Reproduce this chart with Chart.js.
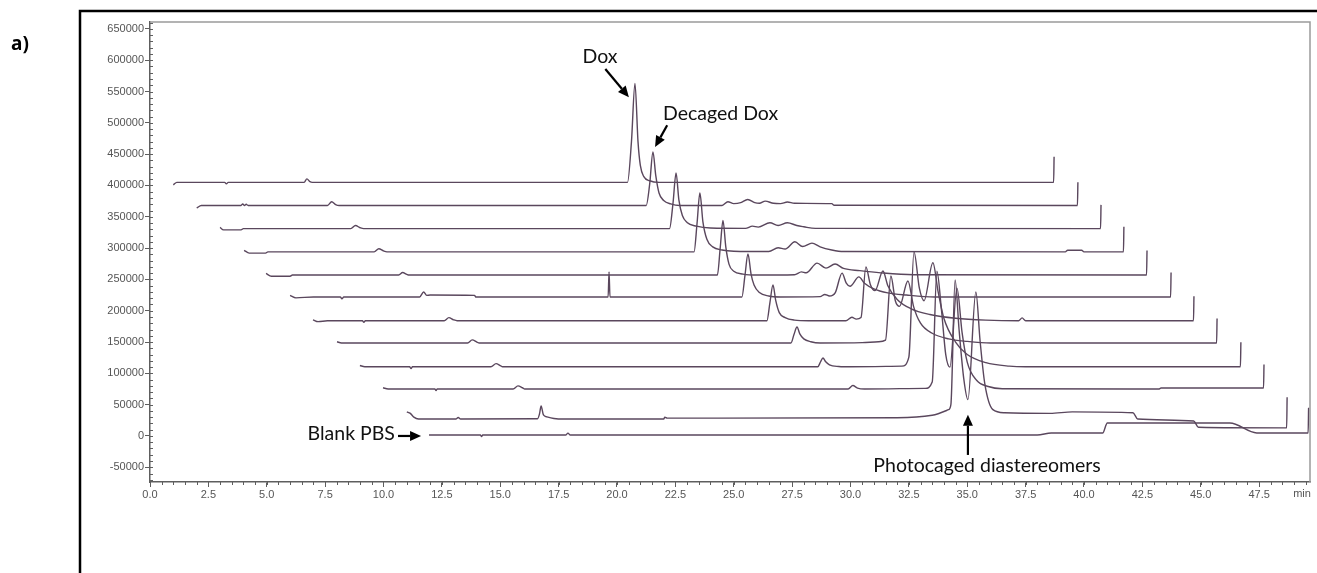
<!DOCTYPE html>
<html>
<head>
<meta charset="utf-8">
<style>
  html, body { margin: 0; padding: 0; background: #fff; }
  #wrap { width: 1317px; height: 573px; }
</style>
<script src="https://cdn.jsdelivr.net/npm/chart.js@4.4.1/dist/chart.umd.min.js"></script>
</head>
<body>
<div id="wrap"><canvas id="hplc" width="1317" height="573"></canvas></div>
<script>
// Stacked HPLC runs, each one offset in time and signal ([min, signal])
const run1 = [[1.0,401000],[1.15,405000],[3.2,405000],[3.27,402500],[3.35,405000],[6.6,405000],[6.72,410500],[6.85,406000],[6.95,405000],
  [20.45,405000],[20.62,470000],[20.77,563000],[20.9,470000],[21.0,432000],[21.15,414000],[21.4,407500],[21.8,405000],[38.7,405000],[38.72,446000]];
const run2 = [[2.0,364000],[2.2,368000],[3.9,368000],[3.97,370500],[4.05,368000],[4.12,370000],[4.2,368000],[7.6,368000],[7.78,374000],[7.95,369500],[8.1,368000],
  [21.25,368000],[21.4,402000],[21.54,453500],[21.66,416000],[21.8,388000],[22.0,376000],[22.3,370500],[22.7,368000],
  [24.5,368000],[24.75,374000],[25.0,371000],[25.3,372500],[25.6,377500],[25.9,372500],[26.1,371500],[26.35,375000],[26.7,371500],[27.0,371000],
  [27.3,373500],[27.6,371500],[29.2,371000],[29.3,368500],[39.72,368000],[39.74,405000]];
const run3 = [[3.0,333000],[3.15,329000],[3.9,329000],[4.0,331000],[8.6,331000],[8.8,336000],[9.0,332500],[9.15,331000],
  [22.25,331000],[22.4,372000],[22.53,420000],[22.65,377000],[22.8,352000],[23.0,341000],[23.4,335000],[24.0,332000],
  [25.5,331500],[25.8,335000],[26.05,333500],[26.55,340500],[26.9,336000],[27.3,340500],[27.7,336000],[28.0,334000],[28.5,331500],[40.71,331000],[40.73,369000]];
const run4 = [[4.03,296500],[4.25,292000],[4.95,292000],[5.05,294000],[9.6,294000],[9.8,299000],[10.0,295500],[10.15,294000],
  [23.3,294000],[23.43,340000],[23.55,388000],[23.68,342000],[23.85,314000],[24.1,302000],[24.5,297000],[25.0,295000],
  [26.5,294500],[26.9,300500],[27.2,298500],[27.62,310000],[27.95,302500],[28.35,308000],[28.7,302000],[29.2,297000],[29.7,294500],
  [39.2,294000],[39.3,296500],[39.9,296500],[40.0,294000],[41.69,294000],[41.71,334000]];
const run5 = [[4.97,259500],[5.2,255000],[6.0,255000],[6.1,257000],[10.65,257000],[10.82,261000],[11.0,258000],[11.1,257000],
  [24.3,257000],[24.42,300000],[24.54,344000],[24.66,302000],[24.8,274000],[25.0,263000],[25.4,258500],[26.0,257000],
  [27.6,257500],[27.9,262000],[28.1,260500],[28.57,276000],[28.95,268000],[29.34,274500],[29.7,267500],[30.4,264000],[31.3,260500],[32.7,257500],
  [42.68,257000],[42.70,296000]];
const run6 = [[6.0,224500],[6.25,220500],[7.0,222000],[8.15,222000],[8.22,219000],[8.3,222000],[11.55,222000],[11.72,230000],[11.85,224500],[12.0,225000],
  [13.9,224500],[13.95,222000],[19.62,222000],[19.66,262000],[19.7,222000],
  [25.35,222000],[25.48,256000],[25.61,290500],[25.74,259000],[25.87,241000],[26.1,229000],[26.5,223500],[27.0,222000],
  [28.7,222500],[28.9,226000],[29.1,223500],[29.35,229000],[29.64,260000],[29.82,244000],[29.98,239000],[30.36,254000],[30.6,244000],
  [31.0,235000],[31.6,228500],[32.4,225000],[33.6,222000],[43.71,222000],[43.73,261000]];
const run7 = [[6.98,185500],[7.2,182500],[7.6,184000],[9.1,184000],[9.16,181500],[9.22,184000],[12.6,184000],[12.8,189000],[13.0,185500],[13.15,184000],
  [26.42,184000],[26.55,213000],[26.68,241000],[26.8,216000],[26.95,197000],[27.2,189000],[27.6,185000],[28.2,184000],
  [29.8,184000],[30.06,189500],[30.25,186500],[30.45,189000],[30.66,270000],[30.85,242000],[31.05,232000],[31.39,263500],[31.6,240000],
  [32.0,218000],[32.6,203000],[33.4,194000],[34.5,188000],[35.8,185000],[37.2,184000],[37.35,188500],[37.5,184000],[44.69,184000],[44.71,223000]];
const run8 = [[8.01,150500],[8.2,148500],[13.6,148500],[13.8,153500],[14.0,150000],[14.1,148500],
  [27.45,148500],[27.58,162000],[27.71,174000],[27.83,163000],[28.0,155000],[28.3,150500],[28.7,148500],
  [30.5,149000],[31.2,150500],[31.5,153000],[31.73,255500],[31.92,216000],[32.1,207000],[32.46,247500],[32.7,207000],
  [33.0,180000],[33.5,164000],[34.2,155000],[35.0,151000],[36.0,148500],[45.68,148500],[45.70,187500]];
const run9 = [[8.99,112500],[9.2,110500],[11.12,110500],[11.18,107500],[11.24,110500],[14.6,110500],[14.82,115500],[15.0,112500],[15.1,110500],
  [28.6,110500],[28.72,118500],[28.82,124500],[28.94,118500],[29.1,113500],[29.5,111000],[30.0,110500],
  [32.2,111500],[32.5,126000],[32.72,294000],[32.95,236000],[33.15,216000],[33.53,276500],[33.75,231000],[34.0,188000],[34.5,150000],
  [35.0,130000],[35.8,117000],[36.8,111500],[37.5,110500],[46.70,110500],[46.72,149500]];
const run10 = [[9.98,77000],[10.2,75000],[12.2,75000],[12.25,72500],[12.3,75000],[15.55,75000],[15.76,80000],[15.95,77000],[16.05,75000],
  [29.9,75000],[30.1,80500],[30.3,76500],[30.6,75000],
  [33.2,76000],[33.5,86000],[33.7,263000],[33.9,200000],[34.08,130000],[34.26,110000],[34.56,236000],[34.78,165000],[35.0,118000],
  [35.4,89000],[35.9,79000],[36.5,75500],[43.2,75000],[43.3,76500],[47.69,76500],[47.71,114000]];
const run11 = [[11.0,38500],[11.15,36000],[11.3,30000],[11.5,27000],[13.1,27000],[13.2,29500],[13.3,27000],
  [16.6,27500],[16.68,35000],[16.75,48000],[16.85,33500],[17.0,30500],[17.3,28000],[17.7,27000],[22.0,27000],[22.05,30000],[22.15,28500],
  [32.0,29000],[33.5,33000],[34.2,42000],[34.3,50000],[34.48,249000],[34.65,170000],[34.85,92000],[35.03,58000],[35.37,230000],
  [35.55,152000],[35.75,84000],[36.1,42000],[36.6,37000],[38.55,36000],[39.5,38500],[42.1,37000],[42.3,27000],[44.7,24000],[44.9,14000],
  [48.68,13000],[48.7,62000]];
const run12 = [[11.95,1500],[14.15,1500],[14.2,-1000],[14.25,1500],[17.8,1500],[17.9,4500],[18.0,1500],[38.0,1500],[38.6,4800],
  [40.8,4800],[41.0,20800],[46.25,20800],[47.4,4800],[49.6,4800],[49.62,45000]];

const runs = [run1, run2, run3, run4, run5, run6, run7, run8, run9, run10, run11, run12];
const xTicks = [0, 2.5, 5, 7.5, 10, 12.5, 15, 17.5, 20, 22.5, 25, 27.5, 30, 32.5, 35, 37.5, 40, 42.5, 45, 47.5];
const yTicks = [-50000, 0, 50000, 100000, 150000, 200000, 250000, 300000, 350000, 400000, 450000, 500000, 550000, 600000, 650000];

const notes = [
  { text: 'Dox', at: [19.27, 605000], align: 'center' },
  { text: 'Decaged Dox', at: [21.97, 515000], align: 'left' },
  { text: 'Blank PBS', at: [10.49, 3200], align: 'right' },
  { text: 'Photocaged diastereomers', at: [35.85, -48000], align: 'center' }
];
const arrows = [
  { from: [19.5, 586000], to: [20.51, 541000] },
  { from: [22.15, 496000], to: [21.63, 461500] },
  { from: [10.62, 0], to: [11.61, 0] },
  { from: [35.03, -30300], to: [35.03, 34000] }
];

const traceColor = '#5a475d';
const axisGray = '#5e5e5e';

function drawArrow(ctx, x1, y1, x2, y2) {
  const ang = Math.atan2(y2 - y1, x2 - x1);
  const len = 11, half = 5;
  const bx = x2 - len * Math.cos(ang), by = y2 - len * Math.sin(ang);
  ctx.beginPath();
  ctx.moveTo(x1, y1);
  ctx.lineTo(bx, by);
  ctx.stroke();
  ctx.beginPath();
  ctx.moveTo(x2, y2);
  ctx.lineTo(bx + half * Math.sin(ang), by - half * Math.cos(ang));
  ctx.lineTo(bx - half * Math.sin(ang), by + half * Math.cos(ang));
  ctx.closePath();
  ctx.fill();
}

const decorations = {
  id: 'decorations',
  beforeDraw(chart) {
    const ctx = chart.ctx;
    ctx.save();
    ctx.fillStyle = '#fff';
    ctx.fillRect(0, 0, chart.width, chart.height);
    ctx.restore();
  },
  afterDraw(chart) {
    const { ctx, chartArea: a, scales: { x, y } } = chart;
    ctx.save();

    // minor ticks: every 0.5 min and every 10000 counts
    ctx.strokeStyle = axisGray;
    ctx.lineWidth = 1;
    ctx.beginPath();
    for (let t = 0; t <= x.max; t += 0.5) {
      const px = Math.round(x.getPixelForValue(t)) + 0.5;
      ctx.moveTo(px, a.bottom);
      ctx.lineTo(px, a.bottom + 3);
    }
    for (let v = -70000; v <= y.max; v += 10000) {
      const py = Math.round(y.getPixelForValue(v)) + 0.5;
      ctx.moveTo(a.left, py);
      ctx.lineTo(a.left + 3, py);
    }
    ctx.stroke();

    // plot box top and right
    ctx.strokeStyle = '#9a9a9a';
    ctx.lineWidth = 1.5;
    ctx.beginPath();
    ctx.moveTo(a.left, a.top);
    ctx.lineTo(a.right, a.top);
    ctx.lineTo(a.right, a.bottom);
    ctx.stroke();

    // outer panel frame
    ctx.strokeStyle = '#000';
    ctx.lineWidth = 2.5;
    ctx.beginPath();
    ctx.moveTo(80, chart.height);
    ctx.lineTo(80, 11);
    ctx.lineTo(chart.width, 11);
    ctx.stroke();

    ctx.fillStyle = '#000';
    ctx.font = 'bold 19px "Noto Sans"';
    ctx.textAlign = 'left';
    ctx.textBaseline = 'middle';
    ctx.fillText('a)', 11, 45);

    // time unit in place of the last tick label
    ctx.fillStyle = '#555';
    ctx.font = '11px "Liberation Sans"';
    ctx.textAlign = 'center';
    ctx.textBaseline = 'top';
    ctx.fillText('min', x.getPixelForValue(49.34), a.bottom + 6);

    // peak labels and arrows
    ctx.fillStyle = '#111';
    ctx.font = '19.5px Lato';
    ctx.textBaseline = 'middle';
    notes.forEach(n => {
      ctx.textAlign = n.align;
      ctx.fillText(n.text, x.getPixelForValue(n.at[0]), y.getPixelForValue(n.at[1]));
    });
    ctx.strokeStyle = '#000';
    ctx.fillStyle = '#000';
    ctx.lineWidth = 2.2;
    arrows.forEach(r => {
      drawArrow(ctx,
        x.getPixelForValue(r.from[0]), y.getPixelForValue(r.from[1]),
        x.getPixelForValue(r.to[0]), y.getPixelForValue(r.to[1]));
    });
    ctx.restore();
  }
};

new Chart(document.getElementById('hplc'), {
  type: 'line',
  data: {
    datasets: runs.map((r, i) => ({
      label: 'run ' + (i + 1),
      data: r,
      borderColor: traceColor,
      borderWidth: 1.4,
      pointRadius: 0,
      cubicInterpolationMode: 'monotone',
      fill: false
    }))
  },
  options: {
    responsive: false,
    animation: false,
    events: [],
    layout: { padding: { top: 22, right: 7, left: 0, bottom: 0 } },
    plugins: { legend: { display: false }, tooltip: { enabled: false } },
    scales: {
      x: {
        type: 'linear',
        min: 0,
        max: 49.68,
        afterBuildTicks: s => { s.ticks = xTicks.map(v => ({ value: v })); },
        afterFit: s => { s.height = 91; },
        grid: { drawOnChartArea: false, tickLength: 5, color: axisGray },
        border: { color: axisGray, width: 1.5 },
        ticks: {
          autoSkip: false,
          maxRotation: 0,
          padding: 1,
          color: '#555',
          font: { family: 'Liberation Sans', size: 11 },
          callback: v => v.toFixed(1)
        }
      },
      y: {
        type: 'linear',
        min: -73500,
        max: 661000,
        afterBuildTicks: s => { s.ticks = yTicks.map(v => ({ value: v })); },
        afterFit: s => { s.width = 150; },
        grid: { drawOnChartArea: false, tickLength: 5, color: axisGray },
        border: { color: axisGray, width: 1.5 },
        ticks: {
          padding: 1,
          color: '#555',
          font: { family: 'Liberation Sans', size: 11 },
          callback: v => String(v)
        }
      }
    }
  },
  plugins: [decorations]
});
</script>
</body>
</html>
